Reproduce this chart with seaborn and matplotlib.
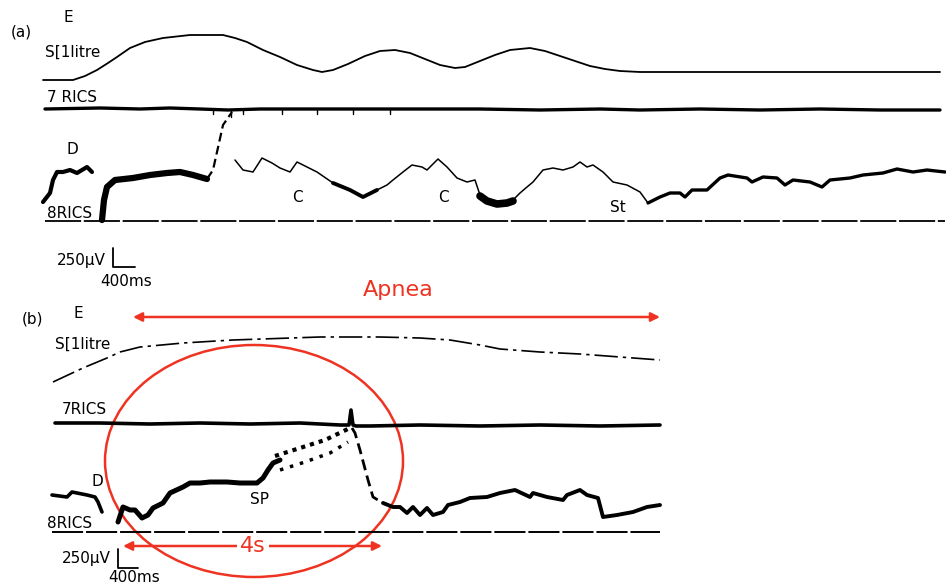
import numpy as np
import pandas as pd
import seaborn as sns
import matplotlib
matplotlib.use("Agg")
import matplotlib.pyplot as plt
from matplotlib.patches import Ellipse

sns.set_theme(style="white")
plt.rcParams['font.family'] = ['DejaVu Sans']

# ---------------- data (in image pixel coordinates) -------------
# Panel (a)
s_a_x = [43, 60, 73, 85, 97, 108, 117, 130, 145, 163, 190, 210, 223, 235, 247, 263, 280, 297, 313, 322, 333, 348, 365, 380, 395, 410, 425, 440, 455, 465, 480, 495, 510, 530, 545, 560, 575, 590, 605, 620, 640, 680, 760, 860, 940]
s_a_y = [80, 80, 80, 76, 70, 63, 57, 48, 42, 38, 35, 35, 35, 38, 42, 50, 57, 65, 70, 72, 70, 64, 56, 51, 50, 53, 59, 65, 68, 67, 61, 55, 50, 48, 51, 56, 61, 66, 69, 71, 72, 72, 72, 72, 72]

r7_a_x = [45, 100, 140, 170, 200, 228, 260, 300, 340, 375, 420, 480, 540, 600, 640, 700, 760, 820, 880, 940]
r7_a_y = [109, 108, 109, 108, 109, 110, 109, 109, 109, 109, 109, 109, 110, 109, 110, 109, 110, 109, 110, 110]

# short downward spikes on the 7 RICS (a) trace: x position and tip depth
tick_a_x = [213, 231, 243, 282, 317, 353, 390]
tick_a_y = [114, 117, 114, 114, 114, 114, 114]

d_a_x = [43, 50, 53, 57, 63, 70, 77, 82, 87, 92]
d_a_y = [202, 193, 180, 172, 172, 170, 173, 170, 167, 172]

r8_a1_x = [102, 104, 107, 115, 133, 150, 167, 180, 193, 207]
r8_a1_y = [220, 200, 187, 180, 178, 175, 173, 172, 175, 179]
spike_a_x = [207, 213, 223, 232]
spike_a_y = [179, 170, 125, 112]

c_a_x = [235, 243, 253, 262, 272, 280, 290, 297, 307, 317, 333, 350, 363, 377, 387, 393, 403, 412, 422, 427, 438, 447, 457, 467, 475, 480, 487, 497, 507, 513, 520, 527, 533, 543, 553, 563, 573, 580, 587, 593, 603, 613, 627, 640, 648]
c_a_y = [160, 170, 172, 158, 163, 168, 172, 162, 167, 172, 183, 190, 197, 190, 185, 180, 172, 165, 167, 170, 159, 167, 178, 182, 180, 195, 200, 203, 202, 200, 193, 187, 182, 170, 168, 170, 167, 162, 167, 165, 172, 182, 185, 192, 203]
thick_a_x = [333, 350, 363, 377]
thick_a_y = [183, 190, 197, 190]
band_a_x = [480, 487, 497, 507, 513]
band_a_y = [196, 201, 204, 203, 201]

st_a_x = [648, 660, 670, 680, 685, 692, 707, 720, 728, 747, 752, 763, 777, 785, 793, 810, 822, 830, 850, 863, 883, 897, 913, 927, 945]
st_a_y = [203, 197, 193, 193, 197, 190, 190, 178, 175, 178, 182, 177, 178, 185, 180, 182, 187, 180, 178, 175, 173, 169, 172, 170, 172]

base_a_x = [45, 945]
base_a_y = [221, 221]

# Panel (b)
s_b_x = [53, 83, 107, 120, 140, 183, 233, 320, 380, 420, 450, 480, 500, 540, 580, 620, 660]
s_b_y = [382, 368, 358, 352, 347, 343, 340, 337, 337, 338, 340, 345, 349, 352, 354, 357, 360]

r7_b_x = [55, 100, 150, 200, 250, 300, 340, 349, 351, 353, 356, 370, 420, 480, 540, 600, 660]
r7_b_y = [423, 423, 424, 423, 424, 423, 425, 425, 410, 425, 426, 426, 425, 426, 425, 426, 425]

d_b_x = [52, 67, 72, 87, 95, 98, 102]
d_b_y = [495, 497, 492, 495, 497, 502, 512]

r8_b_x = [118, 123, 130, 135, 142, 148, 153, 163, 170, 183, 190, 200, 210, 227, 240, 257, 263, 268, 273, 280]
r8_b_y = [522, 507, 510, 510, 518, 515, 508, 503, 493, 487, 483, 483, 482, 482, 483, 483, 478, 470, 463, 460]
sp_hi_x = [275, 300, 325, 350]
sp_hi_y = [456, 448, 440, 428]
sp_lo_x = [280, 305, 330, 348]
sp_lo_y = [470, 462, 453, 442]
drop_b_x = [352, 355, 360, 368, 373, 383]
drop_b_y = [428, 433, 450, 480, 497, 503]
post_b_x = [383, 393, 400, 407, 413, 420, 427, 433, 443, 448, 460, 470, 487, 500, 515, 530, 533, 547, 563, 567, 580, 587, 598, 603, 617, 633, 647, 660]
post_b_y = [503, 507, 507, 513, 507, 515, 508, 515, 512, 505, 502, 498, 497, 493, 490, 497, 493, 497, 500, 495, 490, 495, 498, 517, 515, 512, 507, 505]

base_b_x = [52, 660]
base_b_y = [532, 532]

# annotations
apnea_x = [133, 660]
apnea_y = 317
four_s_x = [123, 382]
four_s_y = 546
ell_center = (254, 461)
ell_size = (298, 232)

# ---------------- figure ----------------
fig = plt.figure(figsize=(9.46, 5.86), dpi=100)
ax = fig.add_axes([0, 0, 1, 1])
ax.set_xlim(0, 946)
ax.set_ylim(586, 0)
ax.axis("off")

def trace(x, y, lw, ls="-", alpha=1.0, color="black"):
    df = pd.DataFrame({"x": x, "y": y})
    sns.lineplot(data=df, x="x", y="y", sort=False, estimator=None, ax=ax,
                 color=color, linewidth=lw, linestyle=ls, alpha=alpha)

# panel a traces
trace(s_a_x, s_a_y, 1.3)
trace(r7_a_x, r7_a_y, 2.4)
for tx, ty in zip(tick_a_x, tick_a_y):
    trace([tx, tx], [109, ty], 1.0)
trace(d_a_x, d_a_y, 3.0)
trace(r8_a1_x, r8_a1_y, 4.5)
trace(spike_a_x, spike_a_y, 1.6, ls=(0, (4, 2)))
trace(c_a_x, c_a_y, 1.1)
trace(thick_a_x, thick_a_y, 2.8)
trace(band_a_x, band_a_y, 5.5)
trace(st_a_x, st_a_y, 2.4)
trace(base_a_x, base_a_y, 1.3, ls=(0, (20, 1.5)))

# panel b traces
trace(s_b_x, s_b_y, 1.2, ls=(0, (14, 3, 2, 3)))
trace(r7_b_x, r7_b_y, 2.6)
trace(d_b_x, d_b_y, 2.6)
trace(r8_b_x, r8_b_y, 3.6)
trace(sp_hi_x, sp_hi_y, 3.0, ls=(0, (1, 1.2)))
trace(sp_lo_x, sp_lo_y, 2.5, ls=(0, (1, 2)))
trace(drop_b_x, drop_b_y, 2.0, ls=(0, (4, 2)))
trace(post_b_x, post_b_y, 2.8)
trace(base_b_x, base_b_y, 1.4, ls=(0, (16, 1.5)))

# scale bars
trace([113, 113, 135], [248, 267, 267], 1.3)
trace([118, 118, 138], [549, 568, 568], 1.3)

fs = 11
txt = dict(color="black", fontsize=fs, va="center")
ax.text(11, 32, "(a)", **txt)
ax.text(63, 18, "E", **txt)
ax.text(45, 52, "S[1litre", **txt)
ax.text(47, 97, "7 RICS", **txt)
ax.text(66, 150, "D", **txt)
ax.text(47, 213, "8RICS", **txt)
ax.text(292, 198, "C", **txt)
ax.text(438, 198, "C", **txt)
ax.text(610, 208, "St", **txt)
ax.text(57, 261, "250\u03bcV", **txt)
ax.text(100, 282, "400ms", **txt)

ax.text(22, 319, "(b)", **txt)
ax.text(73, 314, "E", **txt)
ax.text(55, 344, "S[1litre", **txt)
ax.text(62, 409, "7RICS", **txt)
ax.text(91, 482, "D", **txt)
ax.text(250, 500, "SP", **txt)
ax.text(47, 523, "8RICS", **txt)
ax.text(62, 558, "250\u03bcV", **txt)
ax.text(108, 578, "400ms", **txt)

red = "#ee3322"
ax.annotate("", xy=(apnea_x[0], apnea_y), xytext=(apnea_x[1], apnea_y),
            arrowprops=dict(arrowstyle="<|-|>", color=red, lw=1.8, mutation_scale=13, shrinkA=0, shrinkB=0))
ax.text(398, 290, "Apnea", color=red, fontsize=16, ha="center", va="center")
ax.annotate("", xy=(four_s_x[0], four_s_y), xytext=(four_s_x[1], four_s_y),
            arrowprops=dict(arrowstyle="<|-|>", color=red, lw=1.8, mutation_scale=13, shrinkA=0, shrinkB=0))
ax.text(253, 546, "4s", color=red, fontsize=16, ha="center", va="center",
        bbox=dict(facecolor="white", edgecolor="none", pad=2))
ax.add_patch(Ellipse(ell_center, ell_size[0], ell_size[1], fill=False, edgecolor=red, lw=1.8))

fig.savefig("out.png", dpi=100, facecolor="white")
